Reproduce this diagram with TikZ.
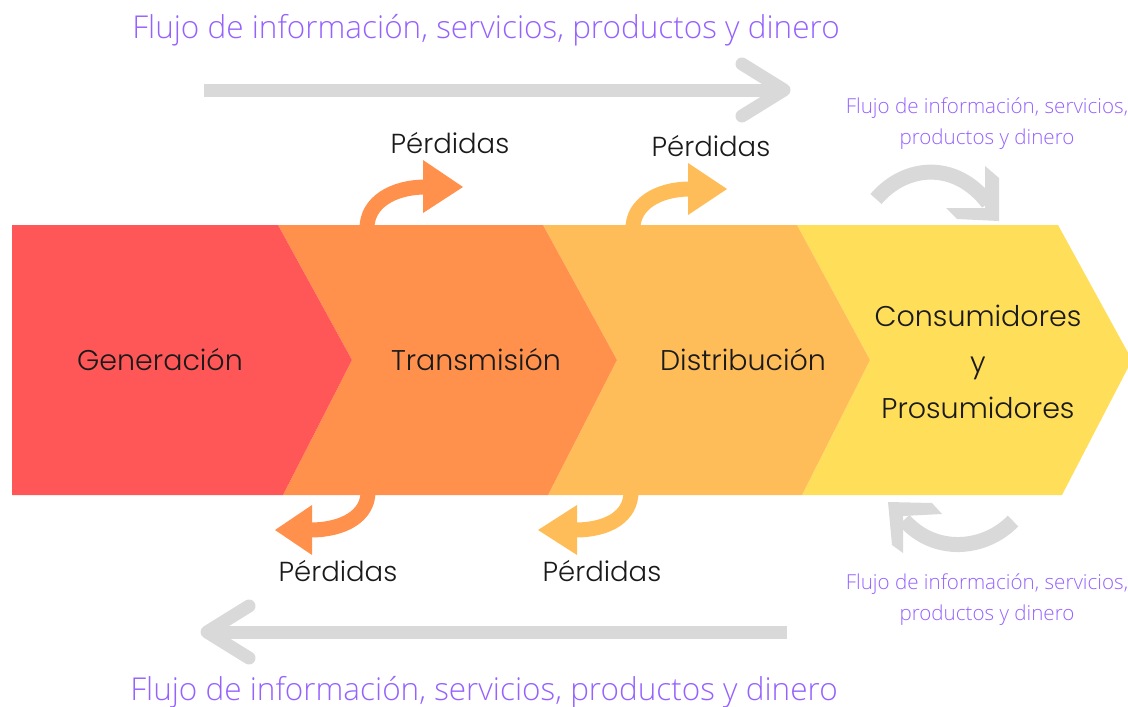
\documentclass[tikz,border=0pt]{standalone}
\usepackage{fontspec}
\setmainfont{Poppins}[UprightFont=* Light]
\newfontfamily\purplefont{Open Sans}[UprightFont=* Light]
\definecolor{cRed}{HTML}{FF5757}
\definecolor{cOrange}{HTML}{FF914D}
\definecolor{cLight}{HTML}{FFBD59}
\definecolor{cYellow}{HTML}{FFDE59}
\definecolor{cGray}{HTML}{D9D9D9}
\definecolor{cPurple}{HTML}{9561FF}
\definecolor{cText}{HTML}{1A1A1A}
\tikzset{
  bigtext/.style={text=cText,font=\fontsize{28.5}{46}\selectfont,align=center,inner sep=0pt},
  losstext/.style={text=cText,font=\fontsize{27.5}{30}\selectfont,inner sep=0pt},
  flowbig/.style={text=cPurple,font=\purplefont\fontsize{31.5}{36}\selectfont,inner sep=0pt},
  flowsmall/.style={text=cPurple,font=\purplefont\fontsize{20.6}{31}\selectfont,align=center,inner sep=0pt},
  grayline/.style={draw=cGray,line width=13pt},
  grayhead/.style={draw=cGray,line width=13pt,line cap=round,line join=round},
  lossline/.style={line width=15pt},
}
\begin{document}
\begin{tikzpicture}[x=1pt,y=-1pt]
\useasboundingbox (0,0) rectangle (1128,707);
\clip (0,0) rectangle (1128,707);
% chevrons
\fill[cYellow] (797,225) -- (1058,225) -- (1132,360) -- (1062,495) -- (802,495) -- (870,360) -- cycle;
\fill[cLight] (543,225) -- (797,225) -- (870,360) -- (802,495) -- (548,495) -- (617,360) -- cycle;
\fill[cOrange] (278,225) -- (543,225) -- (617,360) -- (548,495) -- (283,495) -- (352,360) -- cycle;
\fill[cRed] (12,225) -- (278,225) -- (352,360) -- (283,495) -- (12,495) -- cycle;
% labels
\node[bigtext] (gen) at (160,360) {Generación};
\node[bigtext] (tra) at (476,360) {Transmisión};
\node[bigtext] (dis) at (743,360) {Distribución};
\node[bigtext] (con) at (978,362) {Consumidores\\y\\Prosumidores};
% loss arrows top
\draw[cOrange,lossline] (367,228) .. controls (367,203) and (392,187) .. (426,187);
\fill[cOrange] (423,160) -- (463,187) -- (423,213) -- cycle;
\draw[cLight,lossline] (633,228) .. controls (633,205) and (657,189) .. (690,189);
\fill[cLight] (688,163) -- (727,189) -- (688,215) -- cycle;
% loss arrows bottom
\draw[cOrange,lossline] (368,492) .. controls (368,515) and (345,530) .. (310,530);
\fill[cOrange] (312,505) -- (275,530) -- (312,555) -- cycle;
\draw[cLight,lossline] (631,492) .. controls (631,515) and (610,530) .. (575,530);
\fill[cLight] (577,505) -- (538,530) -- (577,555) -- cycle;
% loss labels
\node[losstext] (l1) at (450,143) {Pérdidas};
\node[losstext] (l2) at (711,146) {Pérdidas};
\node[losstext] (l3) at (338,571) {Pérdidas};
\node[losstext] (l4) at (602,571) {Pérdidas};
% long gray arrows
\coordinate (ta) at (204,90);
\coordinate (tb) at (784,90);
\draw[grayline] (ta) -- ([xshift=-4pt]tb);
\draw[grayhead] (742,64) -- (tb) -- (742,116);
\coordinate (ba) at (787,632);
\coordinate (bb) at (207,632);
\draw[grayline] (ba) -- ([xshift=4pt]bb);
\draw[grayhead] (249,606) -- (bb) -- (249,658);
% curved gray arrows
\draw[cGray,line width=15pt] (876,199) .. controls (905,165) and (955,160) .. (988,203);
\fill[cGray] (985,166) -- (999,178) -- (999,221) -- (957,219) -- (946,208) -- (985,208) -- cycle;
\draw[cGray,line width=15pt] (1013,521) .. controls (985,550) and (935,555) .. (904,520);
\fill[cGray] (888,502) -- (932,503) -- (942,514) -- (903,516) -- (903,553) -- (892,545) -- cycle;
% flow texts
\node[flowbig] (f1) at (486,30) {Flujo de información, servicios, productos y dinero};
\node[flowbig] (f2) at (484,692) {Flujo de información, servicios, productos y dinero};
\node[flowsmall] (f3) at (987,124) {Flujo de información, servicios,\\productos y dinero};
\node[flowsmall] (f4) at (987,600) {Flujo de información, servicios,\\productos y dinero};
\end{tikzpicture}
\end{document}
